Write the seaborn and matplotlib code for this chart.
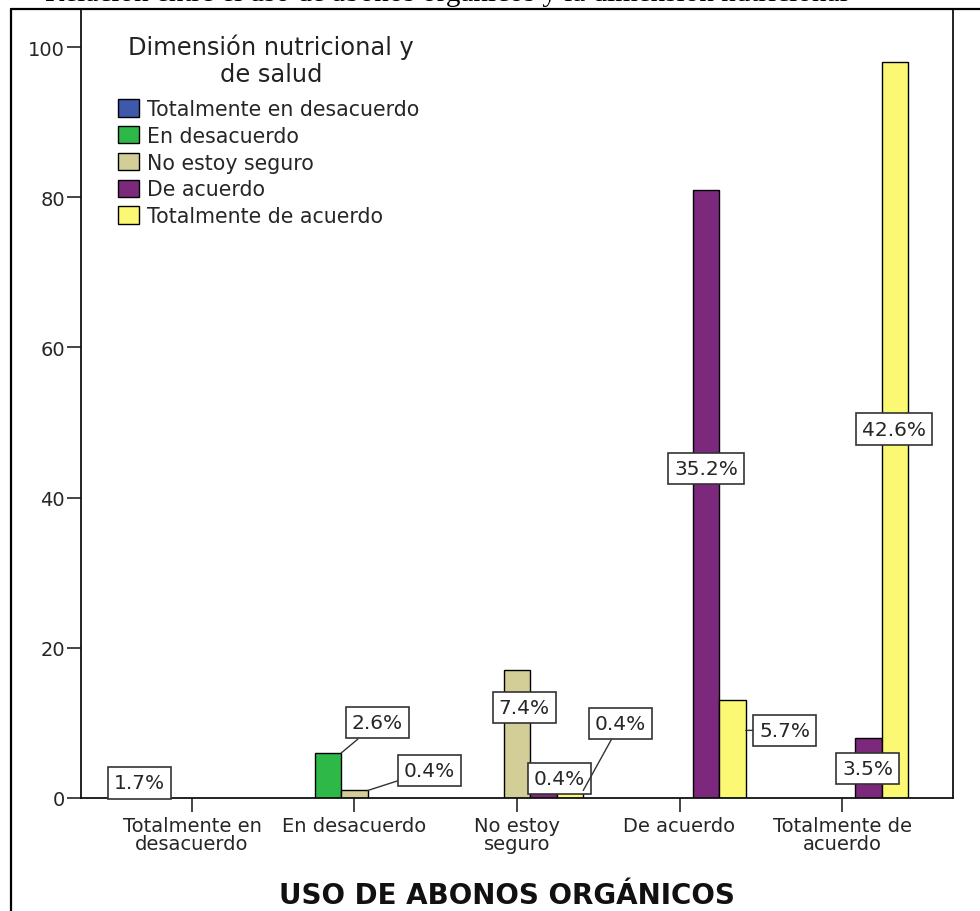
import numpy as np
import pandas as pd
import matplotlib
matplotlib.use("Agg")
import matplotlib.pyplot as plt
from matplotlib.lines import Line2D
import seaborn as sns

# categorias del eje x (uso de abonos organicos)
uso_categorias = ["Totalmente en desacuerdo", "En desacuerdo", "No estoy seguro",
                  "De acuerdo", "Totalmente de acuerdo"]
uso_ticklabels = ["Totalmente en\ndesacuerdo", "En desacuerdo", "No estoy\nseguro",
                  "De acuerdo", "Totalmente de\nacuerdo"]

# niveles de la dimension nutricional y de salud (hue)
dimension_niveles = ["Totalmente en desacuerdo", "En desacuerdo", "No estoy seguro",
                     "De acuerdo", "Totalmente de acuerdo"]
colores = ["#3e58ac", "#2eb848", "#d3ce97", "#7c287d", "#fbf873"]

# frecuencias por nivel de dimension, en el orden de uso_categorias
frec_tot_desacuerdo = [4, 0, 0, 0, 0]
frec_desacuerdo = [0, 6, 0, 0, 0]
frec_no_seguro = [0, 1, 17, 0, 0]
frec_de_acuerdo = [0, 0, 1, 81, 8]
frec_tot_acuerdo = [0, 0, 1, 13, 98]

series = [frec_tot_desacuerdo, frec_desacuerdo, frec_no_seguro,
          frec_de_acuerdo, frec_tot_acuerdo]

filas = []
for nivel, valores in zip(dimension_niveles, series):
    for cat, v in zip(uso_categorias, valores):
        if v > 0:
            filas.append({"uso": cat, "dimension": nivel, "n": v})
df = pd.DataFrame(filas)
total = df["n"].sum()

# posicion de las etiquetas (pixeles desde la esquina sup. derecha de la barra)
etiquetas_pos = {
    (0, 0): (-13, -15, False),
    (1, 1): (36, 30, True),
    (1, 2): (62, 20, True),
    (2, 2): (-6, -37, False),
    (2, 3): (3, 12, False),
    (2, 4): (37, 67, True),
    (3, 3): (-13, -279, False),
    (3, 4): (39, -30, True),
    (4, 3): (-14, -31, False),
    (4, 4): (-14, -367, False),
}

sns.set_style("ticks")
plt.rcParams["font.family"] = ["DejaVu Sans"]

W, H = 980, 912
fig = plt.figure(figsize=(W / 100, H / 100), dpi=100)
ax = fig.add_axes([81 / W, (H - 799) / H, (953 - 81) / W, (799 - 10) / H])

sns.barplot(data=df, x="uso", y="n", hue="dimension", order=uso_categorias,
            hue_order=dimension_niveles, palette=colores, saturation=1, width=0.815,
            edgecolor="black", linewidth=1, errorbar=None, ax=ax, zorder=2)

ax.set_xlim(-0.683, 4.683)
ax.set_ylim(0, (799 - 10) / 7.51)
ax.set_yticks([0, 20, 40, 60, 80, 100])
ax.set_xticks(range(len(uso_categorias)))
ax.set_xticklabels(uso_ticklabels, fontsize=14, linespacing=0.95)
ax.tick_params(axis="y", labelsize=14, length=10, width=1.2, pad=1.5)
ax.tick_params(axis="x", length=10, width=1.2, pad=3)
ax.set_ylabel("")
for s in ax.spines.values():
    s.set_visible(True)
    s.set_linewidth(1.3)
    s.set_color("#111111")

ax.set_xlabel("USO DE ABONOS ORGÁNICOS", fontsize=20, fontweight="bold", color="#111111")
ax.xaxis.set_label_coords((507 - 81) / 872, (799 - 882) / 789)

# etiquetas de porcentaje
fig.canvas.draw()
inv = ax.transData.inverted()
for h, cont in enumerate(ax.containers):
    for bar in cont:
        alto = bar.get_height()
        if alto <= 0:
            continue
        cat = int(round(bar.get_x() + bar.get_width() / 2))
        dx, dy, linea = etiquetas_pos[(cat, h)]
        derecha = bar.get_x() + bar.get_width()
        px, py = ax.transData.transform((derecha, alto))
        tx, ty = px + dx, py + dy
        _, ty_data = inv.transform((tx, ty))
        ya = min(alto, max(ty_data, 0))
        texto = f"{alto / total * 100:.1f}%"
        props = None
        if linea:
            props = dict(arrowstyle="-", color="#333333", lw=1, shrinkA=0, shrinkB=0)
        ax.annotate(texto, xy=(derecha, ya), xytext=(tx, ty), textcoords="figure pixels",
                    ha="center", va="center", fontsize=14.5, zorder=5,
                    bbox=dict(boxstyle="square,pad=0.3", fc="white", ec="#333333", lw=1.2),
                    arrowprops=props, annotation_clip=False)

# leyenda (titulo aparte para controlar el espacio)
handles, labels = ax.get_legend_handles_labels()
leg = ax.legend(handles, labels, loc="upper left",
                bbox_to_anchor=((118 - 81) / 872, (799 - 100) / 789),
                frameon=False, fontsize=14.8,
                handlelength=1.02, handleheight=0.92, handletextpad=0.39,
                labelspacing=0.33, borderaxespad=0, borderpad=0)
for txt, yb in zip(["Dimensión nutricional y", "de salud"], [55, 82]):
    fig.text(271 / W, (H - yb) / H, txt, ha="center", va="baseline",
             fontsize=17.4, color="#222222")

# marco exterior y texto cortado arriba
fig.add_artist(Line2D([11 / W, 11 / W], [0, (H - 10) / H], color="black", lw=1.6))
fig.add_artist(Line2D([11 / W, 1], [(H - 10) / H, (H - 10) / H], color="black", lw=1.6))
fig.text(45 / W, (H - 1) / H,
         "Relación entre el uso de abonos orgánicos y la dimensión nutricional",
         family="Liberation Serif", fontsize=21, va="baseline", color="black")

fig.savefig("out.png", dpi=100)
plt.close(fig)
